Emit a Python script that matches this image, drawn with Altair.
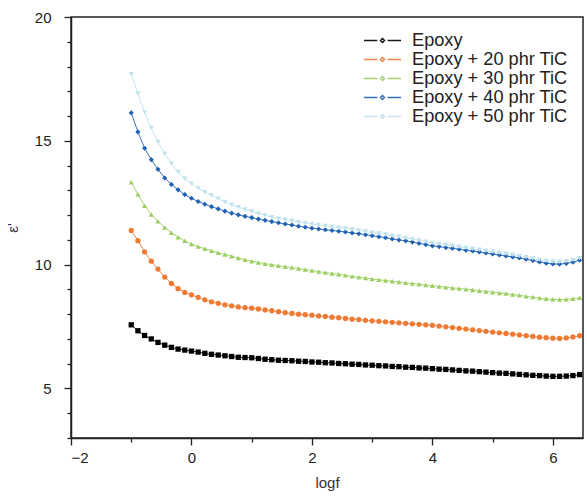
import altair as alt
import pandas as pd

logf = [-1.000, -0.889, -0.778, -0.667, -0.556, -0.444, -0.333, -0.222, -0.111,
        0.000, 0.111, 0.222, 0.333, 0.444, 0.556, 0.667, 0.778, 0.889,
        1.000, 1.111, 1.222, 1.333, 1.444, 1.556, 1.667, 1.778, 1.889,
        2.000, 2.111, 2.222, 2.333, 2.444, 2.556, 2.667, 2.778, 2.889,
        3.000, 3.111, 3.222, 3.333, 3.444, 3.556, 3.667, 3.778, 3.889,
        4.000, 4.111, 4.222, 4.333, 4.444, 4.556, 4.667, 4.778, 4.889,
        5.000, 5.111, 5.222, 5.333, 5.444, 5.556, 5.667, 5.778, 5.889,
        6.000, 6.111, 6.222, 6.333, 6.444]

epoxy = [7.57, 7.33, 7.14, 7.00, 6.86, 6.75, 6.66, 6.59, 6.55,
         6.51, 6.47, 6.42, 6.38, 6.35, 6.32, 6.29, 6.26, 6.25,
         6.24, 6.21, 6.18, 6.16, 6.14, 6.13, 6.12, 6.10, 6.09,
         6.07, 6.06, 6.04, 6.03, 6.01, 6.00, 5.98, 5.97, 5.95,
         5.94, 5.92, 5.91, 5.89, 5.88, 5.86, 5.85, 5.83, 5.82,
         5.80, 5.78, 5.77, 5.75, 5.73, 5.71, 5.70, 5.68, 5.66,
         5.64, 5.62, 5.61, 5.59, 5.57, 5.55, 5.53, 5.52, 5.50,
         5.49, 5.49, 5.50, 5.52, 5.56]

tic20 = [11.38, 10.97, 10.52, 10.14, 9.82, 9.50, 9.24, 9.03, 8.88,
         8.78, 8.68, 8.58, 8.50, 8.44, 8.38, 8.34, 8.29, 8.26,
         8.24, 8.21, 8.17, 8.14, 8.10, 8.06, 8.03, 8.00, 7.98,
         7.96, 7.93, 7.91, 7.88, 7.86, 7.83, 7.80, 7.78, 7.75,
         7.73, 7.71, 7.69, 7.67, 7.65, 7.63, 7.61, 7.59, 7.57,
         7.55, 7.52, 7.49, 7.46, 7.43, 7.40, 7.37, 7.34, 7.31,
         7.28, 7.25, 7.22, 7.19, 7.16, 7.13, 7.10, 7.07, 7.05,
         7.03, 7.02, 7.04, 7.08, 7.13]

tic30 = [13.33, 12.84, 12.38, 12.02, 11.75, 11.50, 11.29, 11.11, 10.96,
         10.83, 10.73, 10.64, 10.56, 10.48, 10.41, 10.34, 10.27, 10.20,
         10.14, 10.09, 10.04, 10.00, 9.96, 9.92, 9.88, 9.84, 9.80,
         9.76, 9.72, 9.68, 9.64, 9.61, 9.57, 9.53, 9.49, 9.46,
         9.42, 9.39, 9.36, 9.33, 9.30, 9.27, 9.24, 9.21, 9.18,
         9.15, 9.12, 9.09, 9.06, 9.04, 9.01, 8.98, 8.95, 8.92,
         8.89, 8.86, 8.83, 8.79, 8.76, 8.72, 8.69, 8.65, 8.62,
         8.60, 8.59, 8.60, 8.62, 8.66]

tic40 = [16.13, 15.36, 14.70, 14.24, 13.85, 13.50, 13.24, 13.02, 12.83,
         12.68, 12.55, 12.44, 12.34, 12.25, 12.16, 12.08, 12.01, 11.95,
         11.90, 11.84, 11.79, 11.74, 11.69, 11.64, 11.60, 11.55, 11.51,
         11.47, 11.44, 11.41, 11.38, 11.35, 11.32, 11.28, 11.25, 11.21,
         11.17, 11.13, 11.09, 11.04, 11.00, 10.96, 10.91, 10.86, 10.81,
         10.76, 10.73, 10.69, 10.66, 10.62, 10.58, 10.55, 10.51, 10.47,
         10.43, 10.39, 10.35, 10.31, 10.27, 10.22, 10.17, 10.11, 10.06,
         10.03, 10.02, 10.05, 10.10, 10.18]

tic50 = [17.69, 16.91, 16.15, 15.52, 14.95, 14.48, 14.08, 13.74, 13.47,
         13.27, 13.08, 12.93, 12.79, 12.66, 12.53, 12.42, 12.32, 12.23,
         12.15, 12.06, 11.99, 11.92, 11.86, 11.81, 11.76, 11.71, 11.68,
         11.64, 11.60, 11.56, 11.53, 11.49, 11.46, 11.42, 11.38, 11.34,
         11.30, 11.26, 11.22, 11.17, 11.13, 11.08, 11.03, 10.98, 10.93,
         10.88, 10.84, 10.80, 10.76, 10.72, 10.68, 10.64, 10.60, 10.56,
         10.52, 10.48, 10.44, 10.40, 10.35, 10.30, 10.25, 10.20, 10.16,
         10.13, 10.12, 10.14, 10.19, 10.26]

series_names = ["Epoxy", "Epoxy + 20 phr TiC", "Epoxy + 30 phr TiC",
                "Epoxy + 40 phr TiC", "Epoxy + 50 phr TiC"]
marker_keys = ["m0", "m20", "m30", "m40", "m50"]
series_values = [epoxy, tic20, tic30, tic40, tic50]
colors = ["#000000", "#ee7a34", "#9ccf62", "#1f62b4", "#bfe2ee"]
shapes = ["square", "circle", "triangle-up", "diamond", "triangle-down"]
marker_sizes = [28, 26, 26, 36, 22]
x_ticks = [-2, -1, 0, 1, 2, 3, 4, 5, 6]
y_ticks = list(range(3, 21))

rows = []
for name, key, vals in zip(series_names, marker_keys, series_values):
    for i, (xv, yv) in enumerate(zip(logf, vals)):
        rows.append({"series": name, "marker": key, "logf": xv, "eps": yv, "order": i})
df = pd.DataFrame(rows)

FONT = "Liberation Sans"

x_enc = alt.X("logf:Q", scale=alt.Scale(domain=[-2, 6.5], nice=False, zero=False),
              axis=alt.Axis(title="logf", values=x_ticks,
                            labelExpr="datum.value % 2 === 0 ? datum.label : ''",
                            tickSize={"condition": {"test": "datum.value % 2 === 0", "value": 7}, "value": 4},
                            grid=False, labelPadding=5, titlePadding=10))
y_enc = alt.Y("eps:Q", scale=alt.Scale(domain=[3, 20], nice=False, zero=False),
              axis=alt.Axis(title="ε'", values=y_ticks,
                            labelExpr="datum.value % 5 === 0 ? datum.label : ''",
                            tickSize={"condition": {"test": "datum.value % 5 === 0", "value": 7}, "value": 4},
                            grid=False, labelPadding=13, titlePadding=14))

legend_path = "M-2.14,0H-0.6M0.6,0H2.14M0,-0.22L0.22,0L0,0.22L-0.22,0Z"

legend = alt.Legend(
    title=None, orient="none", legendX=302, legendY=14,
    symbolType=legend_path, symbolSize=300, symbolStrokeWidth=1.6,
    labelFontSize=18.2, labelFont=FONT, labelColor="#222222",
    labelOffset=20, rowPadding=0, labelLimit=300,
)

lines = alt.Chart(df).mark_line(strokeWidth=1, opacity=0.9).encode(
    x=x_enc, y=y_enc,
    color=alt.Color("series:N", scale=alt.Scale(domain=series_names, range=colors),
                    sort=series_names, legend=legend),
    order="order:Q",
)

points = alt.Chart(df).mark_point(filled=True, strokeWidth=0, opacity=1).encode(
    x=x_enc, y=y_enc,
    fill=alt.Fill("marker:N", scale=alt.Scale(domain=marker_keys, range=colors), legend=None),
    shape=alt.Shape("marker:N", scale=alt.Scale(domain=marker_keys, range=shapes), legend=None),
    size=alt.Size("marker:N", scale=alt.Scale(domain=marker_keys, range=marker_sizes), legend=None),
)

chart = alt.layer(lines, points).properties(
    width=512, height=421,
    padding={"left": 71, "top": 17, "right": 4, "bottom": 59},
    autosize=alt.AutoSizeParams(type="none"),
).configure_view(
    stroke="#222222", strokeWidth=1.5
).configure_axis(
    domainColor="#222222", domainWidth=1.5, tickColor="#222222", tickWidth=1.3,
    labelFont=FONT, labelFontSize=15, labelColor="#222222",
    titleFont=FONT, titleFontSize=15, titleFontWeight="normal", titleColor="#333333",
)

chart.save("out.html", embed_options={"renderer": "svg", "actions": False})
